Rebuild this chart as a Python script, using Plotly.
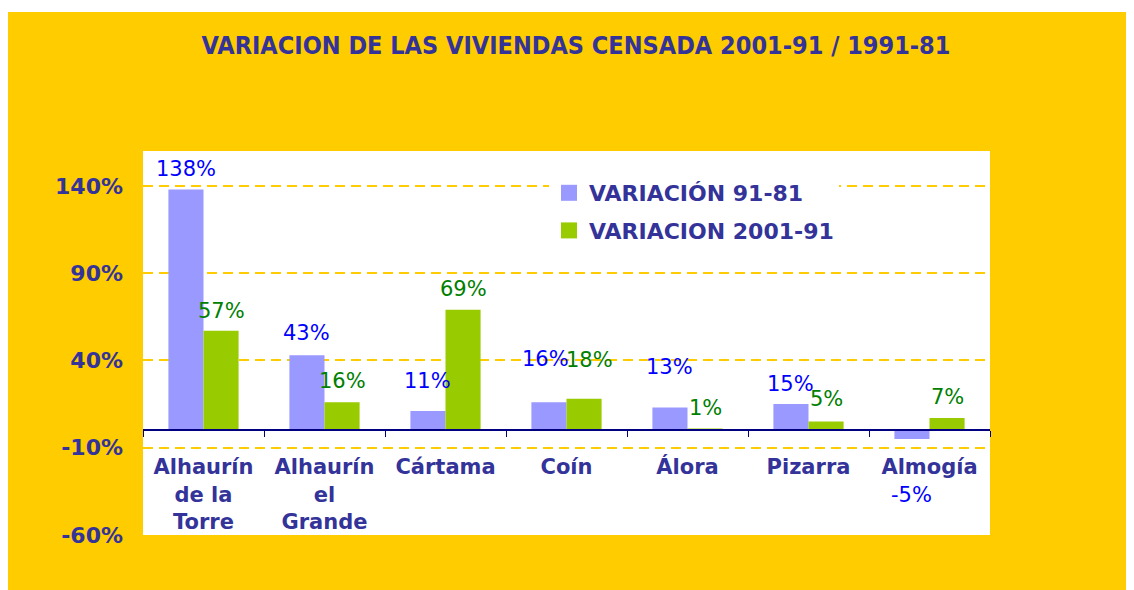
import plotly.graph_objects as go

categories = ["Alhaurín<br>de la<br>Torre", "Alhaurín<br>el<br>Grande", "Cártama", "Coín", "Álora", "Pizarra", "Almogía"]
var_91_81 = [138, 43, 11, 16, 13, 15, -5]
var_01_91 = [57, 16, 69, 18, 1, 5, 7]
series_names = ["VARIACIÓN 91-81", "VARIACION 2001-91"]
y_tickvals = [-60, -10, 40, 90, 140]
y_ticktext = ["-60%", "-10%", "40%", "90%", "140%"]
title_text = "VARIACION DE LAS VIVIENDAS CENSADA 2001-91 / 1991-81"

# label offsets (pixels, from bar end) - styling only
dy_blue = [20, 22, 30, 43, 41, 20, -56]
dy_green = [20, 21, 21, 39, 21, 23, 21]
dx_blue = [0, 0, 0, -3, 0, 0, 0]
dx_green = [0, 0, 0, 5, 0, 0, 0]

YELLOW = "#FFCC00"
NAVY = "#333399"
BLUE_BAR = "#9999FF"
GREEN_BAR = "#99CC00"
FONT = "DejaVu Sans"

W, H = 1134, 590
L, R, T, B = 135, 152, 143, 63
ymin, ymax = -60, 160
bargap = 0.42

fig = go.Figure()
fig.add_trace(go.Bar(x=categories, y=var_91_81, name=series_names[0], marker_color=BLUE_BAR,
                     marker_line_width=0, showlegend=False))
fig.add_trace(go.Bar(x=categories, y=var_01_91, name=series_names[1], marker_color=GREEN_BAR,
                     marker_line_width=0, showlegend=False))
# legend entries
for nm, col, grp in [(series_names[0], BLUE_BAR, "a"), (series_names[1], GREEN_BAR, "b")]:
    fig.add_trace(go.Scatter(x=[None], y=[None], mode="markers", name=nm, legendgroup=grp,
                             marker=dict(symbol="square", size=16, color=col)))

half = (1 - bargap) / 4
annotations = []
for i in range(len(categories)):
    for vals, dys, dxs, col, off in [(var_91_81, dy_blue, dx_blue, "#0000FF", -half),
                                     (var_01_91, dy_green, dx_green, "#008000", half)]:
        annotations.append(dict(x=i + off, y=vals[i], xref="x", yref="y",
                                text=f"{vals[i]}%", showarrow=False,
                                yshift=dys[i], xshift=dxs[i], yanchor="middle", xanchor="center",
                                font=dict(family=FONT, size=21, color=col)))

pw = W - L - R
ph = H - T - B
zero_pos = (0 - ymin) / (ymax - ymin)

shapes = [
    dict(type="rect", xref="paper", yref="paper", layer="below",
         x0=-L / pw, x1=(W - L) / pw, y0=-B / ph, y1=(H - B - 4) / ph,
         fillcolor=YELLOW, line=dict(width=0)),
    dict(type="rect", xref="paper", yref="paper", layer="below",
         x0=0, x1=1, y0=0, y1=1, fillcolor="white", line=dict(width=0)),
]

fig.update_layout(
    width=W, height=H,
    margin=dict(l=L, r=R, t=T, b=B, pad=0),
    paper_bgcolor="white",
    plot_bgcolor="rgba(0,0,0,0)",
    barmode="group", bargap=bargap, bargroupgap=0,
    title=dict(text=title_text, x=568 / W, xanchor="center", y=1 - 37 / H, yanchor="middle",
               font=dict(family="DejaVu Sans Condensed", size=25, color=NAVY, weight="bold")),
    xaxis=dict(type="category", anchor="free", position=zero_pos, showline=True,
               linecolor="#000080", linewidth=1.5, ticks="outside", tickson="boundaries",
               ticklen=6, tickcolor="#000080", tickwidth=1, ticklabelstandoff=18,
               showgrid=False, range=[-0.5, len(categories) - 0.5],
               tickfont=dict(family=FONT, size=21, color=NAVY, weight="bold")),
    yaxis=dict(range=[ymin, ymax], tickvals=y_tickvals, ticktext=y_ticktext, showgrid=True,
               gridcolor=YELLOW, griddash="10px,6px", gridwidth=1.5, zeroline=False, showline=False,
               ticks="", ticklabelstandoff=19,
               tickfont=dict(family=FONT, size=22, color=NAVY, weight="bold")),
    legend=dict(x=(541 - L) / pw, y=(H - B - 164) / ph, xanchor="left", yanchor="top",
                bgcolor="white", font=dict(family=FONT, size=22, color=NAVY, weight="bold"),
                tracegroupgap=6, traceorder="grouped", borderwidth=0,
                entrywidth=275, entrywidthmode="pixels"),
    annotations=annotations,
    shapes=shapes,
)

fig.write_html("out.html")
